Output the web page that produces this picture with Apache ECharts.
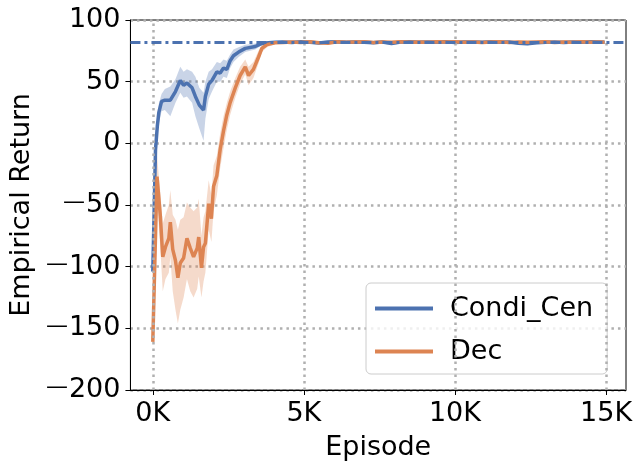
<!DOCTYPE html>
<html>
<head>
<meta charset="utf-8">
<script src="https://cdn.jsdelivr.net/npm/echarts@6/dist/echarts.min.js"></script>
<style>html,body{margin:0;padding:0;background:#fff;}#c{width:642px;height:471px;}</style>
</head>
<body>
<div id="c"></div>
<script>
// ---- data ----
const xTicks = [0, 5000, 10000, 15000];
const yTicks = [-200, -150, -100, -50, 0, 50, 100];
const refLevel = 82;

const cenEpisodes = [0, 90, 150, 200, 290, 400, 580, 750, 910, 1020, 1130, 1300, 1410, 1540, 1680, 1740, 1850, 1960, 2120, 2230, 2340, 2450, 2560, 2670, 2840, 3060, 3390, 3610, 3830, 4050,
  4300, 4600, 4900, 5200, 5500, 5800, 6100, 6400, 6700, 7000, 7300, 7600, 7900, 8200, 8500, 8800, 9100, 9400, 9700, 10000, 10300, 10600, 10900, 11200, 11500, 11800, 12100, 12400, 12700, 13000, 13300, 13600, 13900, 14200, 14500, 14800, 14950];
const cenMean = [-104, -5, 14, 25, 34, 35, 35, 42, 51, 47, 49, 45, 38, 31, 27, 38, 48, 51, 58, 57, 61, 60, 67, 71, 74, 77, 78.5, 81, 81.6, 82,
  82.2, 81.8, 82.3, 82.0, 81.3, 82.1, 82.4, 81.9, 82.2, 82.0, 81.6, 82.2, 81.0, 82.1, 82.3, 81.9, 82.2, 82.0, 82.3, 81.8, 82.1, 82.2, 81.9, 82.3, 81.9, 82.1, 81.2, 80.8, 81.6, 82.0, 82.2, 81.8, 82.1, 82.0, 82.3, 82.1, 82.0];
const cenLow = [-106, -12, 6, 16, 26, 27, 22, 33, 41, 37, 38, 33, 22, 12, 2, 20, 36, 42, 50, 50, 54, 53, 61, 66, 70, 74, 76, 79.5, 80.5, 81,
  81.0, 80.6, 81.1, 80.8, 80.0, 80.9, 81.2, 80.7, 81.0, 80.8, 80.3, 81.0, 79.8, 80.9, 81.1, 80.7, 81.0, 80.8, 81.1, 80.6, 80.9, 81.0, 80.7, 81.1, 80.7, 80.9, 79.9, 79.5, 80.4, 80.8, 81.0, 80.6, 80.9, 80.8, 81.1, 80.9, 80.8];
const cenHigh = [-102, 2, 22, 32, 40, 44, 46, 52, 62, 58, 60, 58, 54, 45, 41, 50, 58, 60, 66, 65, 68, 67, 72, 76, 78, 80, 81, 82.5, 82.5, 83,
  83.4, 83.0, 83.5, 83.2, 82.6, 83.3, 83.6, 83.1, 83.4, 83.2, 82.9, 83.4, 82.2, 83.3, 83.5, 83.1, 83.4, 83.2, 83.5, 83.0, 83.3, 83.4, 83.1, 83.5, 83.1, 83.3, 82.5, 82.1, 82.8, 83.2, 83.4, 83.0, 83.3, 83.2, 83.5, 83.3, 83.2];

const decEpisodes = [0, 140, 250, 330, 420, 530, 580, 660, 750, 830, 910, 1020, 1130, 1240, 1350, 1470, 1520, 1610, 1680, 1740, 1850, 1940, 2010, 2120, 2230, 2340, 2450, 2560, 2730, 2890, 3060, 3170, 3330, 3500, 3610, 3780, 4050,
  4300, 4600, 4900, 5200, 5500, 5800, 6100, 6400, 6700, 7000, 7300, 7600, 7900, 8200, 8500, 8800, 9100, 9400, 9700, 10000, 10300, 10600, 10900, 11200, 11500, 11800, 12100, 12400, 12700, 13000, 13300, 13600, 13900, 14200, 14500, 14800, 14950];
const decMean = [-161, -27, -59, -92, -84, -77, -64, -86, -95, -109, -97, -93, -77, -85, -92, -85, -76, -101, -84, -81, -49, -61, -35, -26, -5, 10, 23, 33, 45, 55, 62, 55, 60, 70, 77, 80, 81.5,
  81.8, 82.2, 81.7, 82.4, 81.6, 81.2, 82.3, 81.9, 82.2, 82.4, 81.8, 82.2, 82.0, 82.3, 81.9, 82.2, 82.0, 82.4, 82.1, 82.3, 81.9, 82.2, 81.7, 82.1, 82.3, 81.8, 82.2, 81.9, 82.1, 82.3, 81.8, 82.2, 82.0, 82.3, 81.9, 82.2, 82.0];
const decLow = [-164, -45, -85, -120, -110, -105, -92, -120, -135, -146, -135, -125, -110, -120, -125, -118, -108, -125, -112, -105, -70, -80, -55, -42, -20, -4, 11, 23, 37, 48, 56, 47, 53, 65, 74, 78, 80.5,
  80.8, 81.2, 80.7, 81.4, 80.6, 80.2, 81.3, 80.9, 81.2, 81.4, 80.8, 81.2, 81.0, 81.3, 80.9, 81.2, 81.0, 81.4, 81.1, 81.3, 80.9, 81.2, 80.7, 81.1, 81.3, 80.8, 81.2, 80.9, 81.1, 81.3, 80.8, 81.2, 81.0, 81.3, 80.9, 81.2, 81.0];
const decHigh = [-158, -10, -40, -65, -58, -50, -38, -58, -62, -70, -62, -60, -48, -52, -55, -52, -45, -75, -60, -55, -30, -42, -18, -10, 8, 22, 33, 42, 53, 62, 68, 62, 66, 75, 80, 82, 82.5,
  82.8, 83.2, 82.7, 83.4, 82.6, 82.2, 83.3, 82.9, 83.2, 83.4, 82.8, 83.2, 83.0, 83.3, 82.9, 83.2, 83.0, 83.4, 83.1, 83.3, 82.9, 83.2, 82.7, 83.1, 83.3, 82.8, 83.2, 82.9, 83.1, 83.3, 82.8, 83.2, 83.0, 83.3, 82.9, 83.2, 83.0];

const BLUE = '#4C72B0';
const ORANGE = '#DD8452';
const FONT = 'DejaVu Sans';
const GRIDC = '#b0b0b0';

function pairs(xs, ys) { return xs.map((x, i) => [x, ys[i]]); }

function band(xs, lo, hi, fill) {
  return {
    type: 'custom',
    silent: true,
    z: 1,
    clip: true,
    data: xs.map((x, i) => [x, lo[i], hi[i]]),
    encode: { x: 0, y: [1, 2] },
    renderItem: function (params, api) {
      if (params.dataIndex !== 0) return null;
      const pts = [];
      for (let i = 0; i < xs.length; i++) pts.push(api.coord([xs[i], hi[i]]));
      for (let i = xs.length - 1; i >= 0; i--) pts.push(api.coord([xs[i], lo[i]]));
      return { type: 'polygon', shape: { points: pts }, style: { fill: fill } };
    }
  };
}

const chart = echarts.init(document.getElementById('c'), null, { renderer: 'canvas' });
chart.setOption({
  animation: false,
  backgroundColor: '#fff',
  textStyle: { fontFamily: FONT },
  grid: { left: 130, right: 16, top: 20, bottom: 81, show: true, borderColor: '#000', borderWidth: 1, backgroundColor: 'transparent' },
  legend: {
    data: ['Condi_Cen', 'Dec'],
    orient: 'vertical',
    left: 366, top: 283,
    padding: [12, 14, 9, 9],
    icon: 'rect',
    itemWidth: 58, itemHeight: 4, itemGap: 16,
    lineStyle: { width: 3 },
    backgroundColor: 'rgba(255,255,255,0.8)',
    borderColor: '#cccccc', borderWidth: 1, borderRadius: 5,
    textStyle: { fontFamily: FONT, fontSize: 27, color: '#000', padding: [0, 0, 0, 12], lineHeight: 27 }
  },
  xAxis: {
    type: 'value', min: -740, max: 15660,
    name: 'Episode', nameLocation: 'middle', nameGap: 44,
    nameTextStyle: { fontFamily: FONT, fontSize: 27, color: '#000' },
    axisLine: { show: true, onZero: false, lineStyle: { color: '#000', width: 1 } },
    axisTick: { show: true, inside: false, length: 5, lineStyle: { color: '#000' }, customValues: xTicks },
    axisLabel: { show: true, fontFamily: FONT, fontSize: 27, color: '#000', margin: 10, customValues: xTicks, formatter: v => (v / 1000) + 'K' },
    splitLine: { show: false }
  },
  yAxis: {
    type: 'value', min: -200, max: 100, interval: 50,
    name: 'Empirical Return', nameLocation: 'middle', nameGap: 94,
    nameTextStyle: { fontFamily: FONT, fontSize: 27, color: '#000' },
    axisLine: { show: true, onZero: false, lineStyle: { color: '#000', width: 1 } },
    axisTick: { show: true, inside: false, length: 5, lineStyle: { color: '#000' } },
    axisLabel: {
      fontFamily: FONT, fontSize: 27, color: '#000', margin: 10,
      formatter: v => v < 0 ? '{m|\u2014}' + (-v) : String(v),
      rich: { m: { fontFamily: FONT, fontSize: 22, color: '#000', padding: [0, 1, 5, 0] } }
    },
    splitLine: { show: true, lineStyle: { color: GRIDC, width: 2.5, type: [2.5, 4] } }
  },
  series: [
    {
      type: 'line', name: '_grid', data: [], silent: true, z: 0,
      markLine: {
        silent: true, symbol: 'none', label: { show: false },
        lineStyle: { color: GRIDC, width: 2.5, type: [2.5, 4] },
        data: xTicks.map(v => ({ xAxis: v }))
      }
    },
    band(cenEpisodes, cenLow, cenHigh, 'rgba(76,114,176,0.3)'),
    band(decEpisodes, decLow, decHigh, 'rgba(221,132,82,0.3)'),
    {
      type: 'line', name: '_ref', data: [], silent: true, z: 2,
      markLine: {
        silent: true, symbol: 'none', label: { show: false },
        lineStyle: { color: BLUE, width: 3, type: [10, 4, 3, 4] },
        data: [{ yAxis: refLevel }]
      }
    },
    {
      type: 'line', name: 'Condi_Cen', data: pairs(cenEpisodes, cenMean),
      symbol: 'none', z: 3, color: BLUE,
      lineStyle: { color: BLUE, width: 3.5 }
    },
    {
      type: 'line', name: 'Dec', data: pairs(decEpisodes, decMean),
      symbol: 'none', z: 4, color: ORANGE,
      lineStyle: { color: ORANGE, width: 3.5 }
    }
  ]
});
</script>
</body>
</html>
